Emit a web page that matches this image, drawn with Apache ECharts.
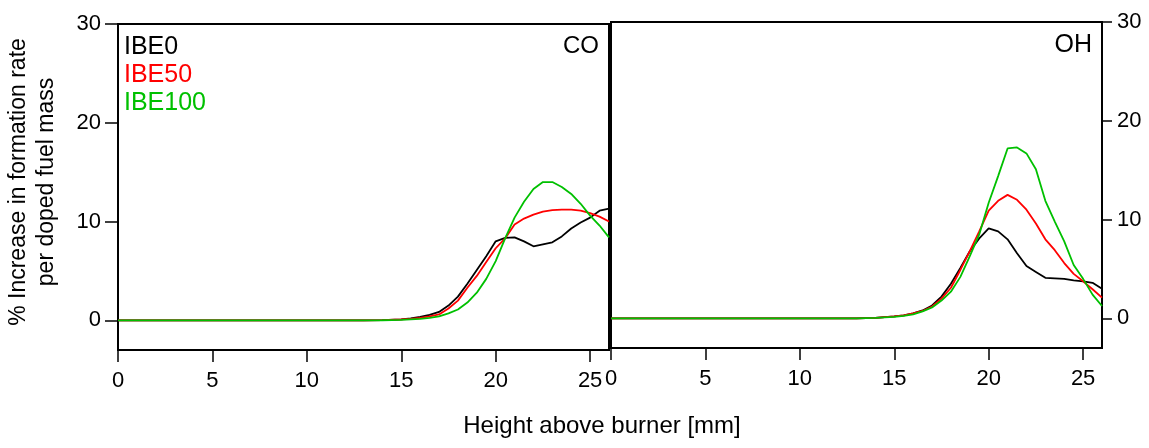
<!DOCTYPE html>
<html>
<head>
<meta charset="utf-8">
<script src="https://cdn.jsdelivr.net/npm/echarts@6/dist/echarts.min.js"></script>
<style>
html,body{margin:0;padding:0;background:#fff;}
#c{width:1149px;height:448px;}
</style>
</head>
<body>
<div id="c"></div>
<script>
// Height above burner [mm]
const heights = [0,5,10,13,14,15,15.5,16,16.5,17,17.5,18,18.5,19,19.5,20,20.5,21,21.5,22,22.5,23,23.5,24,24.5,25,25.5,26];
// CO panel
const coIBE0   = [0,0,0,0,0.02,0.1,0.2,0.35,0.55,0.85,1.5,2.4,3.7,5.1,6.5,8.0,8.35,8.4,8.0,7.5,7.7,7.9,8.5,9.3,9.9,10.4,11.1,11.3];
const coIBE50  = [0,0,0,0,0.02,0.1,0.15,0.25,0.4,0.6,1.2,2.0,3.3,4.5,5.9,7.3,8.3,9.7,10.3,10.7,11.0,11.15,11.2,11.2,11.1,10.85,10.5,10.0];
const coIBE100 = [0,0,0,0,0.01,0.05,0.1,0.15,0.25,0.4,0.7,1.1,1.8,2.8,4.2,6.0,8.3,10.4,12.0,13.3,14.0,14.0,13.5,12.8,11.8,10.6,9.6,8.4];
// OH panel
const ohIBE0   = [0,0,0,0,0.05,0.2,0.3,0.5,0.8,1.3,2.2,3.5,5.1,6.8,8.1,9.1,8.8,8.0,6.6,5.3,4.7,4.1,4.05,4.0,3.85,3.75,3.6,3.0];
const ohIBE50  = [0,0,0,0,0.05,0.2,0.3,0.5,0.75,1.2,2.0,3.1,4.9,6.8,8.8,10.9,11.9,12.5,12.0,11.0,9.6,8.0,6.9,5.6,4.5,3.75,2.95,2.1];
const ohIBE100 = [0,0,0,0,0.05,0.15,0.25,0.4,0.7,1.1,1.8,2.7,4.2,6.3,8.5,11.7,14.4,17.2,17.3,16.7,15.1,11.9,9.8,7.8,5.4,4.0,2.4,1.25];

const seriesNames = ['IBE0','IBE50','IBE100'];
const seriesColors = ['#000000','#ff0000','#00c000'];
const panelLabels = ['CO','OH'];
const xTicks = [0,5,10,15,20,25];
const yTicks = [0,10,20,30];
const xTitle = 'Height above burner [mm]';
const yTitle = '% Increase in formation rate\nper doped fuel mass';

const FONT = '"Liberation Sans", Arial, sans-serif';
const pair = (ys) => heights.map((h,i)=>[h, ys[i]]);
const panels = [[coIBE0,coIBE50,coIBE100],[ohIBE0,ohIBE50,ohIBE100]];

const axisLineStyle = {color:'#000', width:2};

function xAxis(gi){
  return {
    type:'value', gridIndex:gi, min:0, max:26,
    axisLine:{show:true, onZero:false, lineStyle:axisLineStyle},
    axisTick:{show:true, inside:false, length:12, lineStyle:{color:'#000', width:1.5}, customValues:xTicks},
    axisLabel:{show:true, customValues:xTicks, color:'#000', fontSize:22, fontFamily:FONT, margin:20},
    splitLine:{show:false}
  };
}
function yAxis(gi, pos){
  return {
    type:'value', gridIndex:gi, min:-3, max:30, position:pos,
    axisLine:{show:true, onZero:false, lineStyle:axisLineStyle},
    axisTick:{show:true, inside:false, length: pos==='left'?13:10, lineStyle:{color:'#000', width:1.5}, customValues:yTicks},
    axisLabel:{show:true, customValues:yTicks, color:'#000', fontSize:22, fontFamily:FONT, margin: pos==='left'?17:15},
    splitLine:{show:false}
  };
}

const series = [];
panels.forEach((set, gi)=>{
  set.forEach((ys, si)=>{
    series.push({
      name: seriesNames[si], type:'line', xAxisIndex:gi, yAxisIndex:gi,
      data: pair(ys), showSymbol:false, symbol:'none',
      lineStyle:{color:seriesColors[si], width:1.8},
      itemStyle:{color:seriesColors[si]},
      z: 3 + si
    });
  });
});

const chart = echarts.init(document.getElementById('c'), null, {renderer:'canvas'});
chart.setOption({
  animation:false,
  backgroundColor:'#fff',
  grid:[
    {left:118, top:24, width:491, height:326, show:true, borderColor:'#000', borderWidth:2, backgroundColor:'transparent'},
    {left:611, top:22, width:491, height:326, show:true, borderColor:'#000', borderWidth:2, backgroundColor:'transparent'}
  ],
  xAxis:[xAxis(0), xAxis(1)],
  yAxis:[yAxis(0,'left'), yAxis(1,'right')],
  legend:{
    orient:'vertical', left:119, top:35, padding:0, itemGap:3,
    icon:'none', itemWidth:0, itemHeight:14, selectedMode:false,
    data: seriesNames.map((n,i)=>({name:n, textStyle:{color:seriesColors[i]}})),
    textStyle:{fontSize:25, fontFamily:FONT, lineHeight:25}
  },
  series: series,
  graphic:[
    {type:'text', x:599, y:46, style:{text:panelLabels[0], fontSize:24, fontFamily:FONT, fill:'#000', textAlign:'right', textVerticalAlign:'middle'}},
    {type:'text', x:1092, y:45, style:{text:panelLabels[1], fontSize:25, fontFamily:FONT, fill:'#000', textAlign:'right', textVerticalAlign:'middle'}},
    {type:'text', x:602, y:426, style:{text:xTitle, fontSize:24, fontFamily:FONT, fill:'#000', textAlign:'center', textVerticalAlign:'middle'}},
    {type:'text', x:33, y:182, rotation:Math.PI/2, style:{text:yTitle, fontSize:23, lineHeight:28, fontFamily:FONT, fill:'#000', textAlign:'center', textVerticalAlign:'middle'}}
  ]
});
</script>
</body>
</html>
